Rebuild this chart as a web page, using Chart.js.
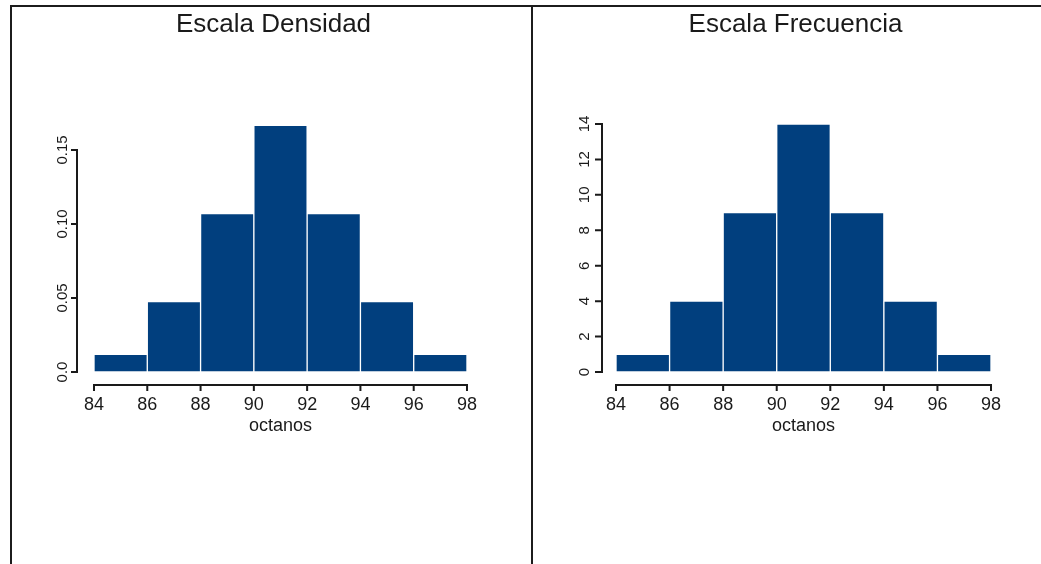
<!DOCTYPE html>
<html><head><meta charset="utf-8">
<script src="https://cdn.jsdelivr.net/npm/chart.js@4.4.0/dist/chart.umd.min.js"></script>
<style>
html,body{margin:0;padding:0;background:#fff;width:1041px;height:564px;overflow:hidden;position:relative}
#frame{position:absolute;left:10px;top:5px;width:1100px;height:700px;border:2px solid #1c1c1c;box-sizing:border-box}
#divider{position:absolute;left:531px;top:5px;width:2px;height:700px;background:#1c1c1c}
#c1{position:absolute;left:0;top:0}
#c2{position:absolute;left:533px;top:0}
</style></head><body>
<div id="frame"></div><div id="divider"></div>
<canvas id="c1" width="532" height="564"></canvas>
<canvas id="c2" width="508" height="564"></canvas>
<script>
// ---- data ----
const binEdges = [84, 86, 88, 90, 92, 94, 96, 98];
const binCenters = [85, 87, 89, 91, 93, 95, 97];
const frequencies = [1, 4, 9, 14, 9, 4, 1];
const densities = [0.0119, 0.0476, 0.1071, 0.1667, 0.1071, 0.0476, 0.0119];
const densityTicks = [0, 0.05, 0.10, 0.15];
const densityTickLabels = ['0.0', '0.05', '0.10', '0.15'];
const freqTicks = [0, 2, 4, 6, 8, 10, 12, 14];
const freqTickLabels = ['0', '2', '4', '6', '8', '10', '12', '14'];
const xTickLabels = ['84', '86', '88', '90', '92', '94', '96', '98'];
const panelTitles = ['Escala Densidad', 'Escala Frecuencia'];
const xAxisTitle = 'octanos';

const BAR = '#013f7e';
const INK = '#1a1a1a';
const FONT = '"Liberation Sans", Arial, Helvetica, sans-serif';

const rAxes = {
  id: 'rAxes',
  afterDraw(chart, args, o) {
    const {ctx, chartArea: a} = chart;
    const xs = chart.scales.x, ys = chart.scales.y;
    ctx.save();
    ctx.strokeStyle = INK; ctx.fillStyle = INK; ctx.lineWidth = 2;
    // title
    ctx.font = '26px ' + FONT;
    ctx.textAlign = 'center'; ctx.textBaseline = 'alphabetic';
    ctx.fillText(o.title, (a.left + a.right) / 2, 31.5);
    // x axis
    const xt = xs.ticks.map(t => t.value);
    ctx.beginPath();
    ctx.moveTo(xs.getPixelForValue(xt[0]) - 1, a.bottom);
    ctx.lineTo(xs.getPixelForValue(xt[xt.length - 1]) + 1, a.bottom);
    xt.forEach(v => { const p = xs.getPixelForValue(v); ctx.moveTo(p, a.bottom); ctx.lineTo(p, a.bottom + 6); });
    ctx.stroke();
    ctx.font = '18px ' + FONT;
    xt.forEach((v, i) => ctx.fillText(o.xLabels[i], xs.getPixelForValue(v), a.bottom + 25));
    const mid = (xs.getPixelForValue(xt[0]) + xs.getPixelForValue(xt[xt.length - 1])) / 2;
    ctx.fillText(o.xTitle, mid, a.bottom + 46);
    // y axis
    const yt = ys.ticks.map(t => t.value);
    ctx.beginPath();
    ctx.moveTo(a.left, ys.getPixelForValue(yt[0]) + 1);
    ctx.lineTo(a.left, ys.getPixelForValue(yt[yt.length - 1]) - 1);
    yt.forEach(v => { const p = ys.getPixelForValue(v); ctx.moveTo(a.left, p); ctx.lineTo(a.left - o.yTickLen, p); });
    ctx.stroke();
    ctx.font = '15px ' + FONT;
    ctx.textBaseline = 'middle';
    yt.forEach((v, i) => {
      ctx.save();
      ctx.translate(a.left - o.yLabelGap, ys.getPixelForValue(v));
      ctx.rotate(-Math.PI / 2);
      ctx.fillText(o.yLabels[i], 0, 0);
      ctx.restore();
    });
    ctx.restore();
  }
};

function makeChart(id, values, yTicks, yLabels, title, pad, xr, yr, yTickLen, yLabelGap) {
  return new Chart(document.getElementById(id), {
    type: 'bar',
    data: {
      datasets: [{
        data: binCenters.map((c, i) => ({x: c, y: values[i]})),
        backgroundColor: BAR,
        borderColor: '#ffffff',
        borderWidth: 1,
        borderSkipped: false,
        barPercentage: 1,
        categoryPercentage: 1,
        clip: false
      }]
    },
    options: {
      responsive: false,
      animation: false,
      devicePixelRatio: 1,
      layout: {padding: pad},
      plugins: {
        legend: {display: false},
        tooltip: {enabled: false},
        title: {display: false},
        rAxes: {title, xLabels: xTickLabels, xTitle: xAxisTitle, yLabels, yTickLen, yLabelGap}
      },
      scales: {
        x: {
          type: 'linear', display: false, offset: false, min: xr[0], max: xr[1],
          afterBuildTicks: s => { s.ticks = binEdges.map(v => ({value: v})); }
        },
        y: {
          type: 'linear', display: false, min: yr[0], max: yr[1],
          afterBuildTicks: s => { s.ticks = yTicks.map(v => ({value: v})); }
        }
      }
    },
    plugins: [rAxes]
  });
}

makeChart('c1', densities, densityTicks, densityTickLabels, panelTitles[0],
  {left: 77, top: 120, right: 62, bottom: 179}, [83.362, 98.113], [-0.00878, 0.17027], 6, 14);
makeChart('c2', frequencies, freqTicks, freqTickLabels, panelTitles[1],
  {left: 69, top: 120, right: 52, bottom: 179}, [83.477, 97.925], [-0.7339, 14.226], 7, 17);
</script>
</body></html>
